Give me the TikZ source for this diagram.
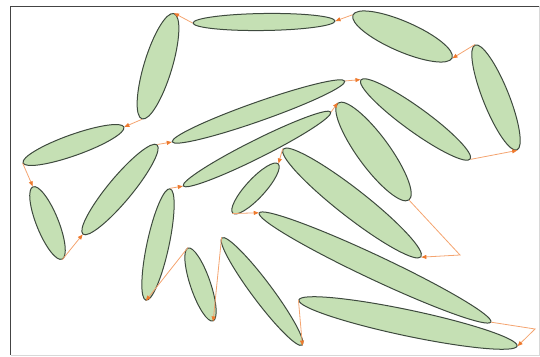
\documentclass[tikz,border=0pt]{standalone}
\usetikzlibrary{shapes.geometric,arrows.meta}
\definecolor{leaffill}{HTML}{C5E0B4}
\definecolor{leafline}{HTML}{3E4A3E}
\definecolor{linkline}{HTML}{F4A470}
\definecolor{linktip}{HTML}{EE7A2E}
\definecolor{framedark}{HTML}{444444}
\definecolor{framelight}{HTML}{D8D8D8}
\tikzset{
  leaf/.style={ellipse, draw=leafline, fill=leaffill, line width=1pt, inner sep=0pt},
  link/.style={draw=linkline, line width=0.8pt, -{Triangle[length=5pt,width=4pt,color=linktip]}},
}
\begin{document}
\begin{tikzpicture}[x=1pt,y=1pt]
\useasboundingbox (0,0) rectangle (540,356);
% frame
\draw[framelight, line width=1pt] (539,349.5) -- (539,1) -- (10.5,1);
\draw[framedark, line width=1.2pt] (10.5,1) -- (10.5,349.5) -- (539,349.5);
% ellipses
\node[leaf, minimum width=142pt, minimum height=17pt, rotate=0.8]   (e1)  at (264,334) {};
\node[leaf, minimum width=110pt, minimum height=28pt, rotate=73.1]  (e2)  at (158,289.75) {};
\node[leaf, minimum width=107pt, minimum height=21pt, rotate=19.6]  (e3)  at (73.5,211) {};
\node[leaf, minimum width=78pt,  minimum height=22pt, rotate=-68.1] (e4)  at (47.5,133) {};
\node[leaf, minimum width=116pt, minimum height=24pt, rotate=50.3]  (e5)  at (120,166.5) {};
\node[leaf, minimum width=183pt, minimum height=19pt, rotate=19.4]  (e6)  at (258.5,244.5) {};
\node[leaf, minimum width=108pt, minimum height=30pt, rotate=-23.5] (e7)  at (402.5,319.5) {};
\node[leaf, minimum width=113pt, minimum height=26pt, rotate=-68.2] (e8)  at (496,258.5) {};
\node[leaf, minimum width=135pt, minimum height=24pt, rotate=-35.9] (e9)  at (415.5,236.5) {};
\node[leaf, minimum width=165pt, minimum height=18pt, rotate=26.6]  (e10) at (257,207) {};
\node[leaf, minimum width=120pt, minimum height=32pt, rotate=-53.8] (e11) at (373.5,204.5) {};
\node[leaf, minimum width=67pt,  minimum height=19pt, rotate=47.4]  (e12) at (255.5,167.5) {};
\node[leaf, minimum width=175pt, minimum height=28pt, rotate=-38.0] (e13) at (352,153) {};
\node[leaf, minimum width=256pt, minimum height=24pt, rotate=-25.2] (e14) at (375,88.5) {};
\node[leaf, minimum width=223pt, minimum height=26pt, rotate=-11.9] (e15) at (408,33) {};
\node[leaf, minimum width=134pt, minimum height=20pt, rotate=-53.2] (e16) at (262,64.5) {};
\node[leaf, minimum width=77pt,  minimum height=20pt, rotate=-71.1] (e17) at (200.5,71.5) {};
\node[leaf, minimum width=114pt, minimum height=22pt, rotate=77.8]  (e18) at (158,111.5) {};
\coordinate (c1) at (460,101);
\coordinate (c2) at (535,27);
% first loop
\draw[link] (e1.west) -- (e2.east);
\draw[link] (e2.west) -- (e3.east);
\draw[link] (e3.west) -- (e4.west);
\draw[link] (e4.east) -- (e5.west);
\draw[link] (e5.east) -- (e6.west);
\draw[link] (e6.east) -- (e9.west);
\draw[link] (e9.east) -- (e8.east);
\draw[link] (e8.west) -- (e7.east);
\draw[link] (e7.west) -- (e1.east);
% second loop
\draw[link] (e10.east) -- (e11.west);
\draw[link] (e11.east) -- (c1) -- (e13.east);
\draw[link] (e13.west) -- (e12.east);
\draw[link] (e12.west) -- (e14.west);
\draw[link] (e14.east) -- (c2) -- (e15.east);
\draw[link] (e15.west) -- (e16.east);
\draw[link] (e16.west) -- (e17.east);
\draw[link] (e17.west) -- (e18.west);
\draw[link] (e18.east) -- (e10.west);
\end{tikzpicture}
\end{document}
